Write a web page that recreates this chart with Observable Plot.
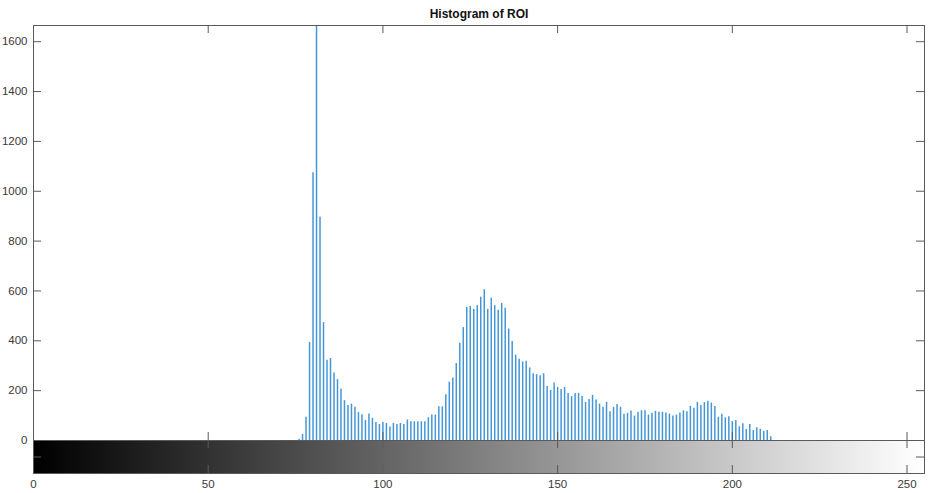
<!DOCTYPE html>
<html><head><meta charset="utf-8">
<script src="https://cdn.jsdelivr.net/npm/d3@7"></script>
<script src="https://cdn.jsdelivr.net/npm/@observablehq/plot@0.6"></script>
<style>body{margin:0;background:#fff;overflow:hidden}</style>
</head><body><div id="chart"></div>
<script>
const title = "Histogram of ROI";
const firstLevel = 76;
const counts = [
  5, 24, 93, 393, 1074, 1665, 896, 473,
  322, 329, 271, 244, 207, 160, 140, 146, 133, 113, 103, 80, 106, 89, 72, 64, 72, 68, 54, 68, 64, 68, 64, 82, 75, 75, 75, 75, 75, 91, 102, 102, 135, 135, 184, 234, 251,
  309, 390, 453, 534, 538, 527, 541, 575, 605, 526, 571, 541, 523, 550, 531, 447, 397, 342, 326, 315, 318, 291, 268, 264, 260, 268, 217, 201, 231, 213, 205, 213, 189, 176, 189, 189,
  177, 153, 164, 181, 162, 146, 133, 153, 115, 133, 144, 133, 105, 109, 118, 98, 113, 119, 119, 102, 109, 117, 113, 113, 110, 106, 98, 102, 110,
  119, 115, 137, 129, 153, 140, 152, 157, 150, 136, 93, 105, 91, 95, 76, 80, 55, 67, 44, 64, 40, 51, 45, 36, 40, 15
];
const xTicks = [0, 50, 100, 150, 200, 250];
const yTicks = [0, 200, 400, 600, 800, 1000, 1200, 1400, 1600];
const grayLevels = d3.range(256);

const data = counts.map((c, i) => ({level: firstLevel + i, count: c}));

const W = 928, H = 493;
const mTop = 25, mBottom = 20, mLeft = 33, mRight = 4;
const plotH = H - mTop - mBottom;
const barPx = 33;
const histPx = plotH - barPx;
const yMax = d3.max(counts);
const yMin = -yMax * barPx / histPx;
const xMax = 255;
const uX = xMax / (W - mLeft - mRight);
const uY = yMax / histPx;
const tl = 8;
const axisColor = "#5a5a5a";

const chart = Plot.plot({
  width: W, height: H,
  marginTop: mTop, marginBottom: mBottom, marginLeft: mLeft, marginRight: mRight,
  style: {fontFamily: "'Liberation Sans', Arial, sans-serif", fontSize: "11.5px", color: "#3a3a3a", background: "#fff"},
  x: {domain: [0, xMax]},
  y: {domain: [yMin, yMax]},
  marks: [
    // colorbar
    Plot.rect(grayLevels, {
      x1: d => d * xMax / 256, x2: d => (d + 1) * xMax / 256 + 0.02,
      y1: yMin, y2: 0,
      fill: d => `rgb(${d},${d},${d})`,
      shapeRendering: "crispEdges"
    }),
    // stems
    Plot.ruleX(data, {x: "level", y1: 0, y2: "count", stroke: "#4596d6", strokeWidth: 1.5}),
    Plot.frame({stroke: axisColor}),
    Plot.ruleY([0], {stroke: axisColor}),
    // inward ticks, y (left/right)
    Plot.ruleY(yTicks, {x1: 0, x2: tl * uX, stroke: axisColor}),
    Plot.ruleY(yTicks, {x1: xMax - tl * uX, x2: xMax, stroke: axisColor}),
    Plot.ruleY([yMin / 2], {x1: 0, x2: tl * uX, stroke: axisColor}),
    Plot.ruleY([yMin / 2], {x1: xMax - tl * uX, x2: xMax, stroke: axisColor}),
    // inward ticks, x (top, baseline both sides, bottom)
    Plot.ruleX(xTicks, {y1: yMax - tl * uY, y2: yMax, stroke: axisColor}),
    Plot.ruleX(xTicks, {y1: -tl * uY, y2: tl * uY, stroke: axisColor}),
    Plot.ruleX(xTicks, {y1: yMin, y2: yMin + tl * uY, stroke: axisColor}),
    Plot.axisY(yTicks, {anchor: "left", tickSize: 0, tickPadding: 6, label: null, tickFormat: d => String(d)}),
    Plot.axisX(xTicks, {anchor: "bottom", tickSize: 0, tickPadding: 6, label: null, tickFormat: d => String(d)}),
    Plot.text([title], {frameAnchor: "top", dy: -11, lineAnchor: "middle", fontWeight: "bold", fontSize: 12, fill: "#111"})
  ]
});
document.getElementById("chart").appendChild(chart);
</script>
</body></html>
